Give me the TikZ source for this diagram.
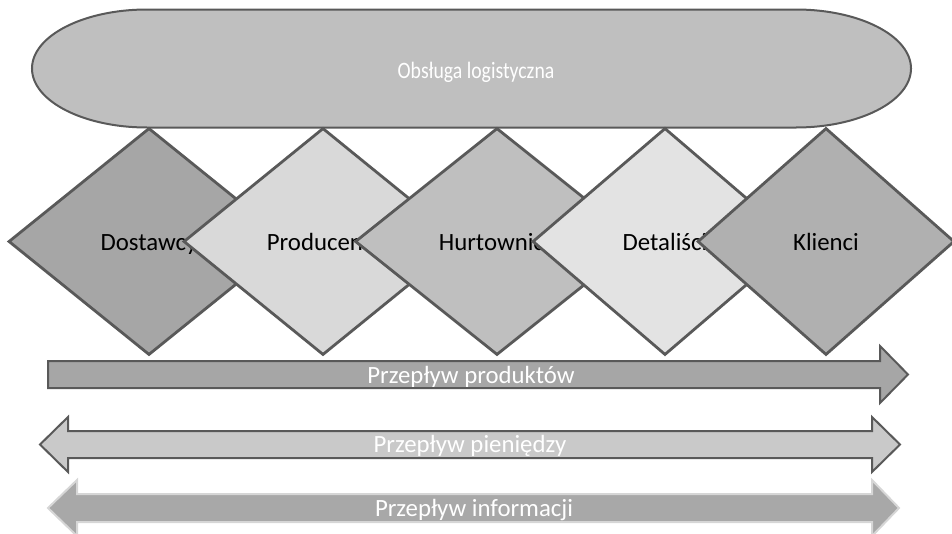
\documentclass[tikz,border=0pt]{standalone}
\usepackage{fontspec}
\setmainfont{Carlito}
\usetikzlibrary{shapes.geometric}
\definecolor{edgec}{HTML}{595959}
\definecolor{stadc}{HTML}{BFBFBF}
\definecolor{dA}{HTML}{A6A6A6}
\definecolor{dB}{HTML}{D9D9D9}
\definecolor{dC}{HTML}{BFBFBF}
\definecolor{dD}{HTML}{E3E3E3}
\definecolor{dE}{HTML}{B0B0B0}
\definecolor{arA}{HTML}{A6A6A6}
\definecolor{arB}{HTML}{C9C9C9}
\definecolor{arC}{HTML}{A8A8A8}
\definecolor{arCedge}{HTML}{D6D6D6}
\begin{document}
\begin{tikzpicture}[x=1pt,y=-1pt,
  lbl/.style={font=\fontsize{24.8}{30}\selectfont, text height=17pt, text depth=0pt},
  wlbl/.style={lbl, text=white, inner sep=0pt},
  dia/.style={diamond, draw=edgec, line width=2.8pt, inner sep=0pt,
    minimum height=227pt, lbl, text=black},
  shp/.style={draw=edgec, line width=2pt, line join=miter}]
\useasboundingbox (0,0) rectangle (952,533);
% top rounded shape
\draw[shp, fill=stadc] (147,9.5) -- (796,9.5)
  arc[start angle=-90, end angle=90, x radius=115, y radius=59]
  -- (147,127.5)
  arc[start angle=90, end angle=270, x radius=115, y radius=59] -- cycle;
\node[wlbl, font=\fontsize{23.5}{28}\selectfont, text height=16pt] (log) at (476,70.5)
  {\scalebox{0.84}[1]{Obsługa logistyczna}};
% diamonds
\node[dia, fill=dA, minimum width=281pt] (d1) at (149,241.5) {Dostawcy};
\node[dia, fill=dB, minimum width=279pt] (d2) at (323,241.5) {Producenci};
\node[dia, fill=dC, minimum width=284pt] (d3) at (497,241.5) {Hurtownicy};
\node[dia, fill=dD, minimum width=265pt] (d4) at (665,241.5) {Detaliści};
\node[dia, fill=dE, minimum width=257pt] (d5) at (826,241.5) {Klienci};
% arrow 1
\draw[shp, fill=arA] (48,361) -- (880,361) -- (880,346) -- (908,374.5)
  -- (880,403) -- (880,388) -- (48,388) -- cycle;
\node[wlbl] (pp) at (471,374.5) {Przepływ produktów};
% arrow 2
\draw[shp, fill=arB] (40,444.5) -- (68,417) -- (68,431) -- (872,431)
  -- (872,417) -- (900,444.5) -- (872,472) -- (872,458) -- (68,458)
  -- (68,472) -- cycle;
\node[wlbl] (pm) at (470,444) {Przepływ pieniędzy};
% arrow 3
\draw[draw=arCedge, line width=2pt, fill=arC] (48,508) -- (77,480) -- (77,494) -- (872,494)
  -- (872,480) -- (899,508) -- (872,536) -- (872,522) -- (77,522)
  -- (77,536) -- cycle;
\node[wlbl] (pi) at (474,507.5) {Przepływ informacji};
\end{tikzpicture}
\end{document}
